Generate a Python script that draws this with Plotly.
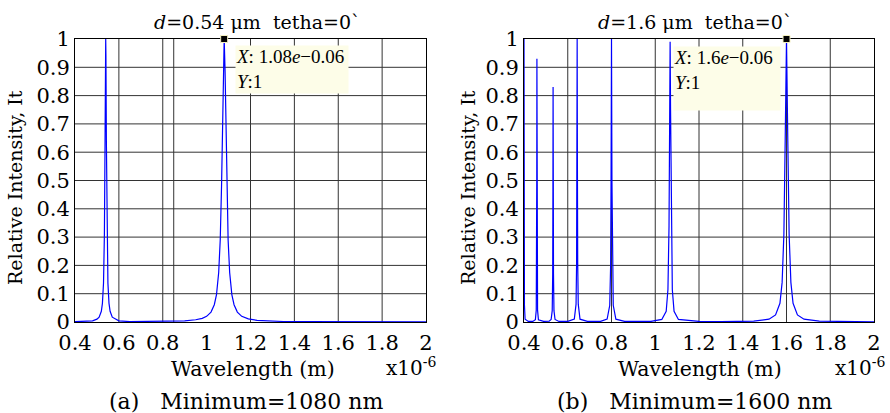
import plotly.graph_objects as go

# ---------------- data ----------------
# (a) d = 0.54 um
wl_a = [0.400, 0.450, 0.480, 0.500, 0.510, 0.520, 0.525, 0.530, 0.534, 0.537, 0.539,
        0.540, 0.541, 0.543, 0.546, 0.550, 0.555, 0.560, 0.570, 0.600, 0.650, 0.700,
        0.800, 0.900, 0.950, 0.980, 1.000, 1.020, 1.035, 1.045, 1.055, 1.062, 1.068,
        1.072, 1.076, 1.080, 1.084, 1.088, 1.092, 1.098, 1.105, 1.115, 1.125, 1.140,
        1.160, 1.190, 1.230, 1.280, 1.350, 1.450, 1.600, 1.800, 2.000]
it_a = [0.001, 0.002, 0.004, 0.010, 0.017, 0.038, 0.066, 0.138, 0.31, 0.64, 0.94,
        1.000, 0.94, 0.64, 0.31, 0.138, 0.066, 0.038, 0.017, 0.004, 0.0013, 0.0015,
        0.0017, 0.004, 0.008, 0.013, 0.020, 0.035, 0.061, 0.097, 0.175, 0.29, 0.48,
        0.67, 0.89, 1.000, 0.89, 0.67, 0.48, 0.29, 0.175, 0.097, 0.061, 0.035,
        0.020, 0.011, 0.006, 0.0033, 0.0018, 0.001, 0.0005, 0.0003, 0.0002]

# (b) d = 1.6 um
wl_b = [0.400, 0.4005, 0.401, 0.402, 0.405, 0.420, 0.440,
        0.452, 0.456, 0.4577, 0.4584, 0.459, 0.4596, 0.4603, 0.462, 0.466, 0.490,
        0.515, 0.524, 0.529, 0.5312, 0.5322, 0.533, 0.5338, 0.5348, 0.537, 0.542, 0.560,
        0.600, 0.630, 0.638, 0.6405, 0.6418, 0.643, 0.6442, 0.6455, 0.648, 0.656, 0.690,
        0.750, 0.780, 0.792, 0.796, 0.798, 0.800, 0.802, 0.804, 0.808, 0.820, 0.860,
        0.980, 1.030, 1.050, 1.058, 1.063, 1.066, 1.068, 1.070, 1.073, 1.078, 1.086, 1.106, 1.200,
        1.300, 1.450, 1.520, 1.550, 1.570, 1.580, 1.588, 1.594, 1.600, 1.606, 1.612, 1.620,
        1.630, 1.650, 1.680, 1.750, 1.850, 2.000]
it_b = [1.000, 0.50, 0.20, 0.06, 0.010, 0.002, 0.002,
        0.008, 0.042, 0.19, 0.50, 0.93, 0.50, 0.19, 0.042, 0.008, 0.002,
        0.003, 0.009, 0.040, 0.17, 0.46, 0.83, 0.46, 0.17, 0.040, 0.009, 0.002,
        0.002, 0.010, 0.063, 0.21, 0.54, 1.000, 0.54, 0.21, 0.063, 0.010, 0.002,
        0.002, 0.010, 0.059, 0.20, 0.50, 1.000, 0.50, 0.20, 0.059, 0.010, 0.002,
        0.002, 0.009, 0.038, 0.115, 0.34, 0.75, 0.99, 0.75, 0.34, 0.115, 0.038, 0.009, 0.002,
        0.001, 0.003, 0.010, 0.025, 0.066, 0.14, 0.31, 0.64, 1.000, 0.64, 0.31, 0.14,
        0.066, 0.025, 0.010, 0.003, 0.001, 0.0005]

tip_a = (1.08, 1.0)
tip_b = (1.6, 1.0)

x_ticks = [0.4, 0.6, 0.8, 1.0, 1.2, 1.4, 1.6, 1.8, 2.0]
x_ticktext = ["0.4", "0.6", "0.8", "1", "1.2", "1.4", "1.6", "1.8", "2"]
y_ticks = [0, 0.1, 0.2, 0.3, 0.4, 0.5, 0.6, 0.7, 0.8, 0.9, 1.0]
y_ticktext = ["0", "0.1", "0.2", "0.3", "0.4", "0.5", "0.6", "0.7", "0.8", "0.9", "1"]
grid_x_a = [0.6, 0.8, 0.85, 1.2, 1.4, 1.6, 1.8]
grid_x_b = [0.6, 0.8, 1.0, 1.2, 1.4, 1.6, 1.8]
grid_y = [0.1, 0.2, 0.3, 0.4, 0.5, 0.6, 0.7, 0.8, 0.9]

titles = ["<i>d</i>=0.54 \u03bcm\u00a0\u00a0tetha=0`", "<i>d</i>=1.6 \u03bcm\u00a0\u00a0tetha=0`"]
captions = ["(a)\u00a0\u00a0\u00a0Minimum=1080 nm", "(b)\u00a0\u00a0\u00a0Minimum=1600 nm"]
tip_texts = ["<i>X</i>: 1.08<i>e</i>\u22120.06<br><i>Y</i>:1",
             "<i>X</i>: 1.6<i>e</i>\u22120.06<br><i>Y</i>:1"]

# ---------------- figure ----------------
W, H = 890, 413
FONT = "DejaVu Serif"
TIPFONT = "Liberation Serif"
BLUE = "#0000ff"
GRID = "#333333"

def px(x):
    return x / W

def py(y):
    return 1 - y / H

fig = go.Figure()
fig.add_trace(go.Scatter(x=wl_a, y=it_a, mode="lines", line=dict(color=BLUE, width=1.2),
                         xaxis="x", yaxis="y", showlegend=False, hoverinfo="skip"))
fig.add_trace(go.Scatter(x=wl_b, y=it_b, mode="lines", line=dict(color=BLUE, width=1.2),
                         xaxis="x2", yaxis="y2", showlegend=False, hoverinfo="skip"))
for (tx, ty), xa, ya in [(tip_a, "x", "y"), (tip_b, "x2", "y2")]:
    fig.add_trace(go.Scatter(x=[tx], y=[ty], mode="markers", xaxis=xa, yaxis=ya,
                             marker=dict(symbol="square", size=7, color="black",
                                         line=dict(color="#f4f0c0", width=1)),
                             cliponaxis=False, showlegend=False, hoverinfo="skip"))

shapes = []
for gx_list, xr, yr in [(grid_x_a, "x", "y"), (grid_x_b, "x2", "y2")]:
    for gx in gx_list:
        shapes.append(dict(type="line", xref=xr, yref=yr, x0=gx, x1=gx, y0=0, y1=1,
                           line=dict(color=GRID, width=1), layer="below"))
    for gy in grid_y:
        shapes.append(dict(type="line", xref=xr, yref=yr, x0=0.4, x1=2.0, y0=gy, y1=gy,
                           line=dict(color=GRID, width=1), layer="below"))

ydom = [py(322), py(39)]
axis_common = dict(showline=True, linecolor="black", linewidth=1, mirror=True,
                   showgrid=False, zeroline=False, ticks="", layer="below traces",
                   automargin=False,
                   tickfont=dict(family=FONT, size=21, color="black"))
xaxis_common = dict(axis_common, range=[0.4, 2.0], tickvals=x_ticks, ticktext=x_ticktext,
                    ticklabelstandoff=2)
yaxis_common = dict(axis_common, range=[0, 1], tickvals=y_ticks, ticktext=y_ticktext)

fig.update_layout(
    width=W, height=H,
    margin=dict(l=0, r=0, t=0, b=0, pad=0, autoexpand=False),
    paper_bgcolor="white", plot_bgcolor="white",
    font=dict(family=FONT, color="black"),
    xaxis=dict(xaxis_common, domain=[px(75), px(426)], anchor="y"),
    yaxis=dict(yaxis_common, domain=ydom, anchor="x"),
    xaxis2=dict(xaxis_common, domain=[px(524), px(874)], anchor="y2"),
    yaxis2=dict(yaxis_common, domain=ydom, anchor="x2"),
    shapes=shapes,
)

ann = []
for i, (tcx, xtc, capx, ytx, x6r) in enumerate([(257, 253, 246, 15, 438), (695, 700, 694, 468, 887)]):
    ann.append(dict(text=titles[i], x=px(tcx), y=py(22), xref="paper", yref="paper",
                    showarrow=False, xanchor="center", yanchor="middle",
                    font=dict(family=FONT, size=19)))
    ann.append(dict(text="Wavelength (m)", x=px(xtc), y=py(369), xref="paper", yref="paper",
                    showarrow=False, xanchor="center", yanchor="middle",
                    font=dict(family=FONT, size=20.5)))
    ann.append(dict(text="x10<sup>-6</sup>", x=px(x6r), y=py(367), xref="paper", yref="paper",
                    showarrow=False, xanchor="right", yanchor="middle",
                    font=dict(family=FONT, size=20)))
    ann.append(dict(text=captions[i], x=px(capx), y=py(401), xref="paper", yref="paper",
                    showarrow=False, xanchor="center", yanchor="middle",
                    font=dict(family=FONT, size=22)))
    ann.append(dict(text="Relative Intensity, It", x=px(ytx), y=py(188), xref="paper", yref="paper",
                    showarrow=False, xanchor="center", yanchor="middle", textangle=-90,
                    font=dict(family=FONT, size=19)))

for i, (bx, by, bw, bh) in enumerate([(235, 45, 112, 47), (673, 46, 106, 63)]):
    ann.append(dict(text=tip_texts[i], x=px(bx), y=py(by), xref="paper", yref="paper",
                    showarrow=False, xanchor="left", yanchor="top", align="left",
                    valign="top", width=bw, height=bh, borderpad=0,
                    bgcolor="#fdfde8", font=dict(family=TIPFONT, size=19)))

fig.update_layout(annotations=ann)
fig.write_html("out.html", config={"displayModeBar": False},
               post_script="document.body.style.margin='0';")
